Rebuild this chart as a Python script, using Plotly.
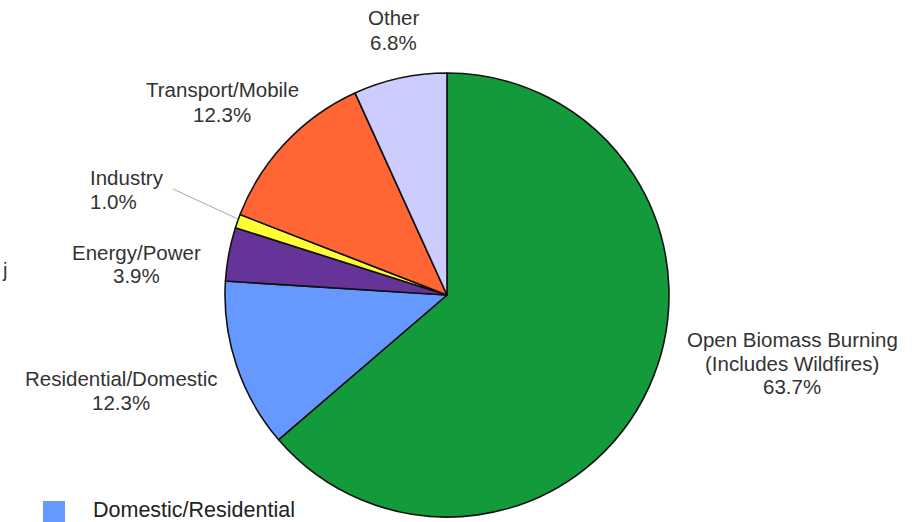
import plotly.graph_objects as go

# Emission source shares (percent), clockwise from 12 o'clock
sources = ["Open Biomass Burning<br>(Includes Wildfires)", "Residential/Domestic",
           "Energy/Power", "Industry", "Transport/Mobile", "Other"]
shares = [63.7, 12.3, 3.9, 1.0, 12.3, 6.8]
colors = ["#139a3a", "#6699ff", "#663399", "#ffff33", "#ff6633", "#ccccff"]

# label anchor: x (px), y of first line centre (px), line step (px), alignment
label_pos = [(792, 340, 23, "center"), (121, 378, 24, "center"), (136, 252, 23, "center"),
             (88, 177, 25, "left"), (222, 89, 25, "center"), (393, 17, 25, "center")]

W, H = 919, 522
cx, cy, r = 447, 295, 222
FONT = "Liberation Sans, Arial, sans-serif"

fig = go.Figure(go.Pie(
    labels=sources, values=shares, sort=False, direction="clockwise", rotation=0,
    marker=dict(colors=colors, line=dict(color="#111111", width=1.6)),
    textinfo="none", hoverinfo="label+percent", showlegend=False,
    domain=dict(x=[(cx - r) / W, (cx + r) / W], y=[(H - cy - r) / H, (H - cy + r) / H]),
))

annotations = []
for name, val, (px, py, step, al) in zip(sources, shares, label_pos):
    lines = name.split("<br>") + [f"{val:.1f}%"]
    for i, line in enumerate(lines):
        annotations.append(dict(
            x=px / W, y=1 - (py + i * step) / H, xref="paper", yref="paper",
            text=line, showarrow=False,
            xanchor="left" if al == "left" else "center", yanchor="middle",
            font=dict(family=FONT, size=20.5, color="#333333"),
        ))

# leader line for the thin Industry slice
shapes = [dict(type="line", xref="paper", yref="paper",
               x0=173 / W, y0=1 - 189 / H, x1=238 / W, y1=1 - 219 / H,
               line=dict(color="#aaaaaa", width=1))]

# legend entry
shapes.append(dict(type="rect", xref="paper", yref="paper",
                   x0=43 / W, x1=65 / W, y0=1 - 524 / H, y1=1 - 501 / H,
                   fillcolor="#6699ff", line=dict(width=0)))
annotations.append(dict(x=91 / W, y=1 - 510 / H, xref="paper", yref="paper",
                        text="Domestic/Residential", showarrow=False,
                        xanchor="left", yanchor="middle",
                        font=dict(family=FONT, size=21.5, color="#222222")))
annotations.append(dict(x=0, y=1 - 270 / H, xref="paper", yref="paper",
                        text="j", showarrow=False, xanchor="left", yanchor="middle",
                        font=dict(family=FONT, size=20, color="#333333")))

fig.update_layout(
    width=W, height=H, margin=dict(l=0, r=0, t=0, b=0),
    paper_bgcolor="white", plot_bgcolor="white",
    annotations=annotations, shapes=shapes,
)

fig.write_html("out.html")
